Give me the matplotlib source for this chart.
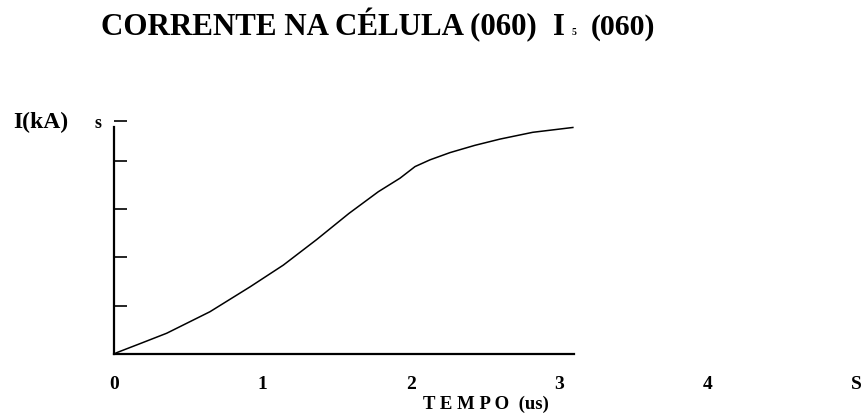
import numpy as np
import matplotlib
matplotlib.use("Agg")
import matplotlib.pyplot as plt

# corrente: tempo (us) e I (kA)
tempo = [0.0, 0.02, 0.18, 0.355, 0.646, 0.916, 1.14, 1.365, 1.582, 1.78,
         1.926, 2.027, 2.128, 2.263, 2.43, 2.60, 2.82, 3.09]
corrente = [0.0, 0.03, 0.22, 0.43, 0.875, 1.39, 1.84, 2.37, 2.91, 3.36,
            3.64, 3.88, 4.02, 4.17, 4.32, 4.45, 4.59, 4.69]

xtick_pos = [0, 1, 2, 3, 4, 5]
xtick_labels = ['0', '1', '2', '3', '4', 'S']
ytick_pos = [1, 2, 3, 4, 4.82]
ytick_labels = ['', '', '', '', 's']

serif = ['Liberation Serif', 'DejaVu Serif']
W, H = 868, 419

fig = plt.figure(figsize=(W / 100, H / 100), dpi=100)
# eixo: origem em (114, 354) px, 148.5 px por us, 48.3 px por kA
ax = fig.add_axes([114 / W, (H - 354) / H, 5 * 148.5 / W, 5 * 48.3 / H])
ax.set_xlim(0, 5)
ax.set_ylim(0, 5)

ax.plot(tempo, corrente, color='k', lw=1.1)

for s in ['top', 'right']:
    ax.spines[s].set_visible(False)
ax.spines['left'].set_bounds(0, 4.70)
ax.spines['bottom'].set_bounds(0, 3.1)
ax.spines['left'].set_linewidth(1.6)
ax.spines['bottom'].set_linewidth(1.6)

ax.set_xticks(xtick_pos)
ax.set_xticklabels(xtick_labels, family=serif, fontweight='bold', fontsize=14)
ax.tick_params(axis='x', which='major', length=0, pad=16)
ax.set_xticks([1, 2, 3], minor=True)
ax.tick_params(axis='x', which='minor', direction='in', length=5, width=1)

ax.set_yticks(ytick_pos)
ax.set_yticklabels(ytick_labels, family=serif, fontweight='bold', fontsize=13)
ax.tick_params(axis='y', direction='in', length=9, width=1.2, pad=9)

fig.text(486 / W, 1 - 404 / H, 'T E M P O  (us)', family=serif,
         fontweight='bold', fontsize=13.5, ha='center', va='center')
fig.text(13 / W, 1 - 122 / H, 'I(kA)', family=serif, fontweight='bold',
         fontsize=17, ha='left', va='center')

fig.text(101 / W, 1 - 35 / H, 'CORRENTE NA CÉLULA (060)', family=serif,
         fontweight='bold', fontsize=22.3, ha='left', va='baseline')
fig.text(553 / W, 1 - 35 / H, 'I', family=serif, fontweight='bold',
         fontsize=22, ha='left', va='baseline')
fig.text(572 / W, 1 - 35 / H, '5', family=serif, fontweight='bold',
         fontsize=7, ha='left', va='baseline')
fig.text(591 / W, 1 - 35 / H, '(060)', family=serif, fontweight='bold',
         fontsize=21.5, ha='left', va='baseline')

fig.savefig('out.png', dpi=100)
